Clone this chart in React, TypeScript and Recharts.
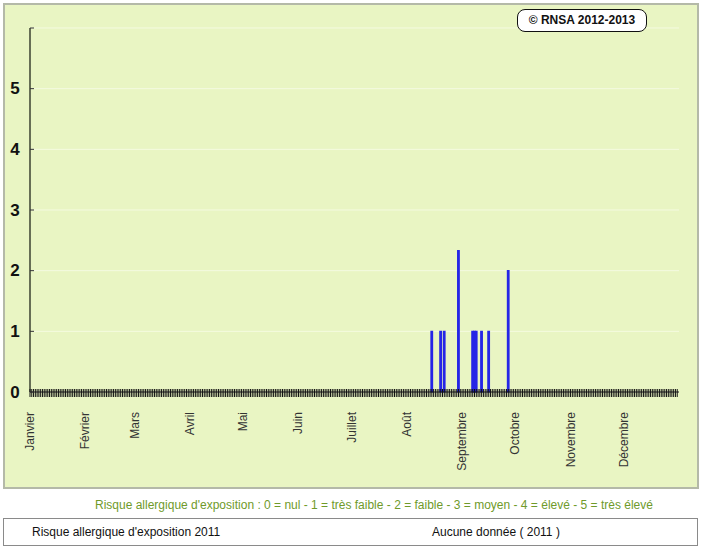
import React from "react"
import { BarChart, Bar, XAxis, YAxis, CartesianGrid } from "recharts"

// day of year (0 = 1er janvier 2011) and risk level for each day with a value
const riskDays = [226, 231, 233, 241, 249, 250, 251, 254, 258, 269]
const riskValues = [1, 1, 1, 2.33, 1, 1, 1, 1, 1, 2]

const monthNames = [
  "Janvier",
  "Février",
  "Mars",
  "Avril",
  "Mai",
  "Juin",
  "Juillet",
  "Août",
  "Septembre",
  "Octobre",
  "Novembre",
  "Décembre",
]
const monthStartDays = [0, 31, 59, 90, 120, 151, 181, 212, 243, 273, 304, 334]
const yTicks = [0, 1, 2, 3, 4, 5, 6]

const data = riskDays.map((day, i) => ({ day, risk: riskValues[i] }))
const dayTicks = Array.from({ length: 365 }, (_, i) => i)

const font = "Arial, 'Liberation Sans', sans-serif"

function DayTick({ x, y, payload }: any) {
  const idx = monthStartDays.indexOf(payload.value)
  return (
    <g>
      <line x1={x} x2={x} y1={y - 3} y2={y + 5} stroke="#111" strokeWidth={1} />
      {idx >= 0 && (
        <text
          x={x}
          y={y + 20}
          transform={`rotate(-90 ${x} ${y + 20})`}
          textAnchor="end"
          dominantBaseline="central"
          fontSize={12}
          fontFamily={font}
          fill="#333"
        >
          {monthNames[idx]}
        </text>
      )}
    </g>
  )
}

function RiskTick({ x, y, payload }: any) {
  return (
    <g>
      <line x1={x} x2={x + 4} y1={y} y2={y} stroke="#333" strokeWidth={1} />
      {payload.value < 6 && (
        <text x={x - 15} y={y} textAnchor="middle" dominantBaseline="central" fontSize={17} fontWeight="bold" fontFamily={font} fill="#111">
          {payload.value}
        </text>
      )}
    </g>
  )
}

export default function App() {
  return (
    <div style={{ position: "absolute", left: 0, top: 0, width: 701, height: 548, background: "#fff", fontFamily: font }}>
      <div
        style={{
          position: "absolute",
          left: 3,
          top: 3,
          width: 692,
          height: 482,
          background: "#e9f5c3",
          border: "2px solid #b4b9a8",
        }}
      />
      <div style={{ position: "absolute", left: 0, top: 0 }}>
        <BarChart width={701} height={490} data={data} margin={{ top: 28, right: 22, left: 5, bottom: 0 }}>
          <CartesianGrid vertical={false} stroke="#f4fae0" />
          <XAxis
            dataKey="day"
            type="number"
            domain={[0, 365]}
            ticks={dayTicks}
            interval={0}
            height={98}
            tickSize={0}
            tickMargin={0}
            tickLine={false}
            axisLine={{ stroke: "#111" }}
            tick={<DayTick />}
          />
          <YAxis
            type="number"
            domain={[0, 6]}
            ticks={yTicks}
            interval={0}
            width={25}
            tickSize={0}
            tickMargin={0}
            tickLine={false}
            axisLine={{ stroke: "#3a4030", strokeWidth: 1.5 }}
            tick={<RiskTick />}
          />
          <Bar dataKey="risk" fill="#2626e6" stroke="#2626e6" strokeWidth={1.2} barSize={3} isAnimationActive={false} />
        </BarChart>
      </div>
      <div
        style={{
          position: "absolute",
          left: 517,
          top: 9,
          width: 128,
          height: 21,
          border: "1.5px solid #111",
          borderRadius: 8,
          background: "#fff",
          fontSize: 12,
          fontWeight: "bold",
          lineHeight: "21px",
          textAlign: "center",
          color: "#111",
        }}
      >
        © RNSA 2012-2013
      </div>
      <div
        style={{
          position: "absolute",
          left: 95,
          top: 498,
          whiteSpace: "nowrap",
          fontSize: 12,
          color: "#6f9a2a",
        }}
      >
        Risque allergique d'exposition : 0 = nul - 1 = très faible - 2 = faible - 3 = moyen - 4 = élevé - 5 = très élevé
      </div>
      <div
        style={{
          position: "absolute",
          left: 3,
          top: 518,
          width: 693,
          height: 26,
          border: "1px solid #8a8a8a",
          background: "#fff",
          fontSize: 12,
          color: "#111",
        }}
      >
        <span style={{ position: "absolute", left: 28, top: 6 }}>Risque allergique d'exposition 2011</span>
        <span style={{ position: "absolute", left: 428, top: 6 }}>Aucune donnée ( 2011 )</span>
      </div>
    </div>
  )
}
